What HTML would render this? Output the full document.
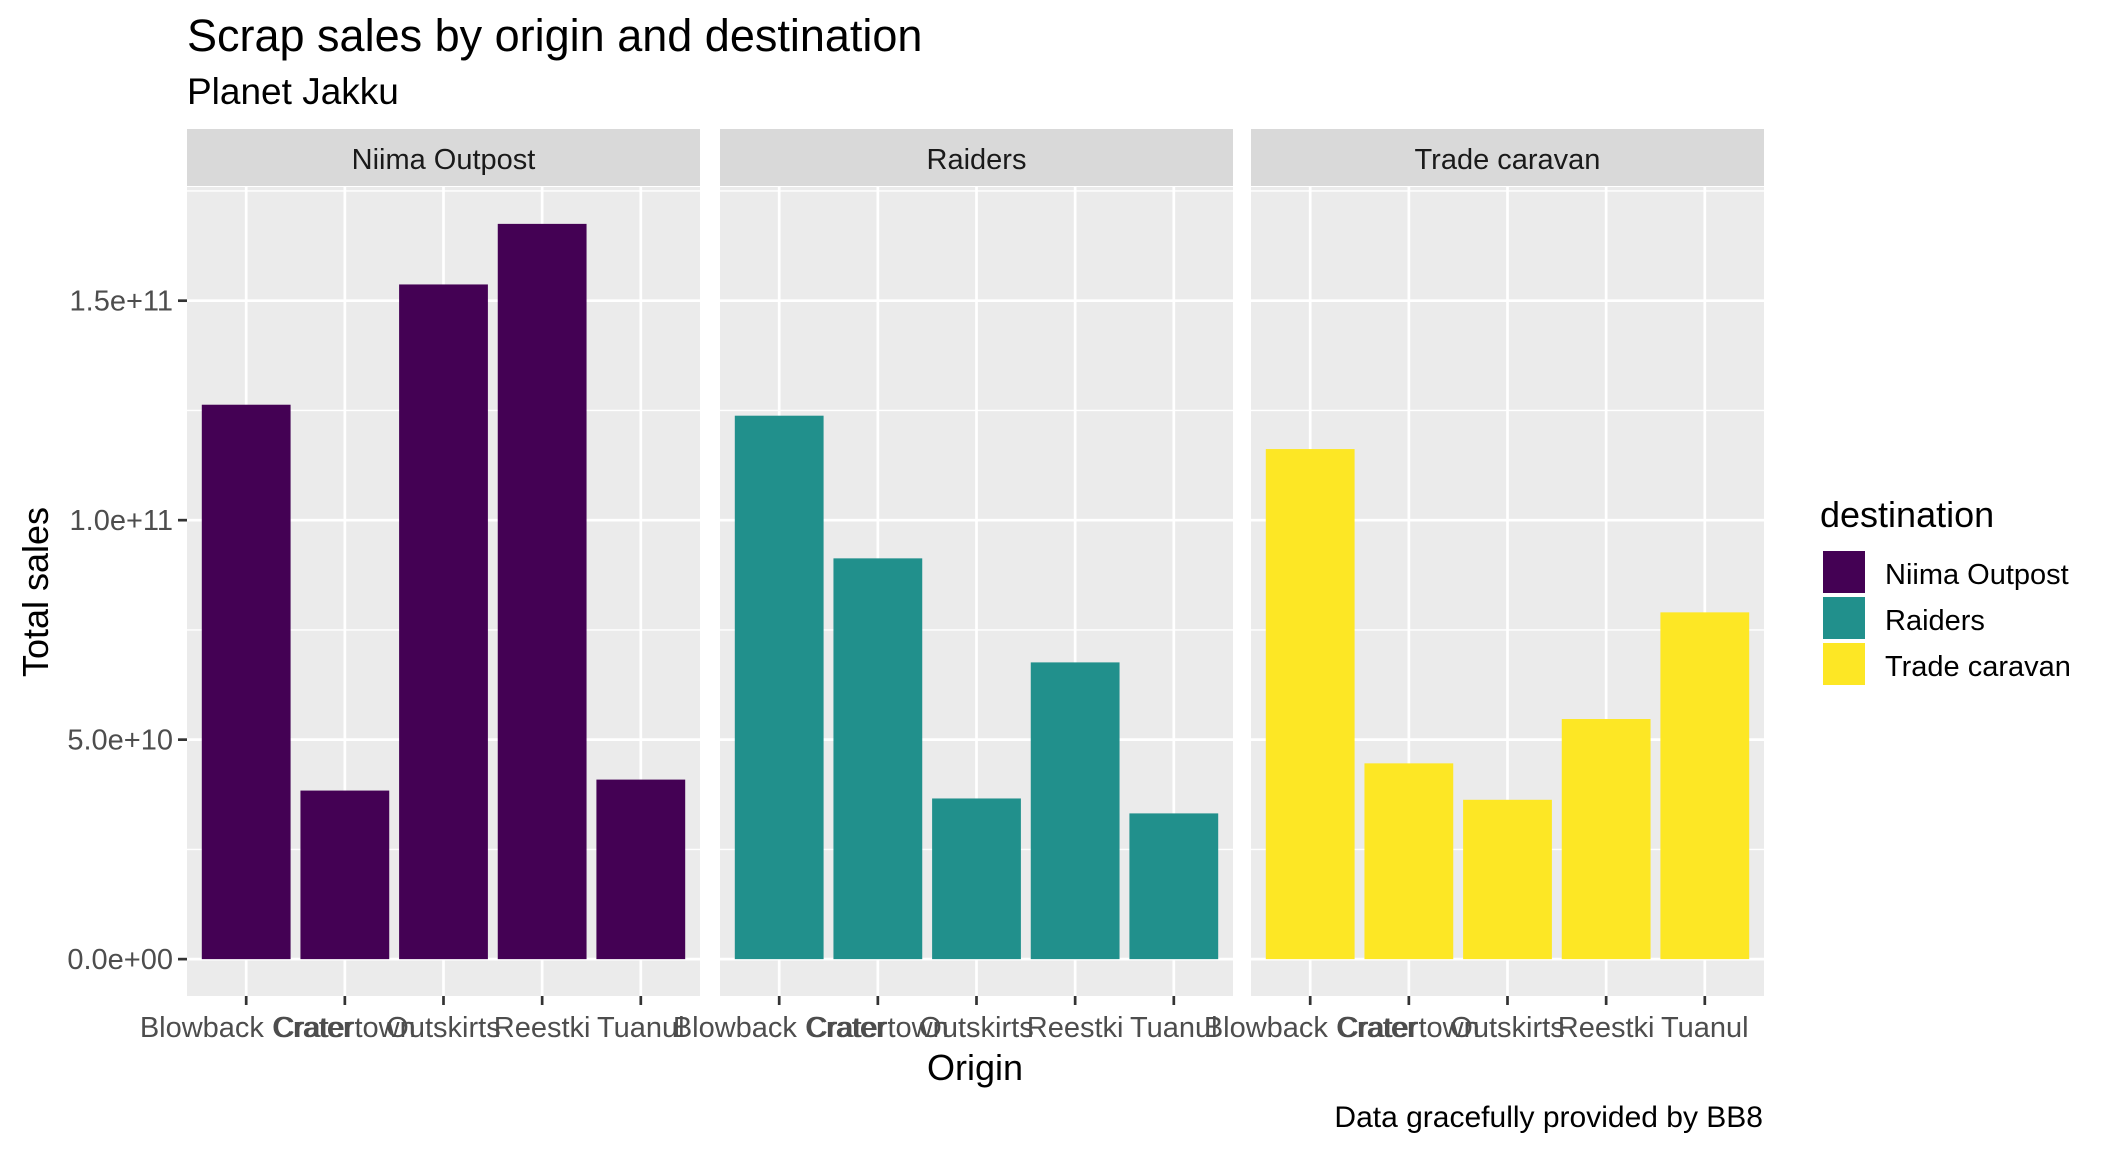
<!DOCTYPE html>
<html><head><meta charset="utf-8"><style>
html,body{margin:0;padding:0;background:#fff;}
svg{display:block;font-family:"Liberation Sans",Arial,sans-serif;}
</style></head><body>
<svg id="chart" width="2112" height="1152" viewBox="0 0 2112 1152">
<text x="187" y="51" font-size="45" fill="#000">Scrap sales by origin and destination</text>
<text x="187" y="104" font-size="37" fill="#000">Planet Jakku</text>
<text x="975" y="1080" font-size="36" text-anchor="middle" fill="#000">Origin</text>
<text transform="translate(48,592) rotate(-90)" font-size="36" text-anchor="middle" fill="#000">Total sales</text>
<text x="1763" y="1127" font-size="30" text-anchor="end" fill="#000">Data gracefully provided by BB8</text>
<g id="panels"></g>
<g>
<text x="1820" y="527" font-size="36" fill="#000">destination</text>
<rect x="1823" y="551" width="42" height="42" fill="#440154"/>
<text x="1885" y="584" font-size="29" fill="#000">Niima Outpost</text>
<rect x="1823" y="597" width="42" height="42" fill="#21908C"/>
<text x="1885" y="630" font-size="29" fill="#000">Raiders</text>
<rect x="1823" y="643" width="42" height="42" fill="#FDE725"/>
<text x="1885" y="676" font-size="29" fill="#000">Trade caravan</text>
</g>
</svg>
<script>
const origins = ["Blowback Crater","Cratertown","Outskirts","Reestki","Tuanul"];
const facets = ["Niima Outpost","Raiders","Trade caravan"];
const facetColors = ["#440154","#21908C","#FDE725"];
const niimaSales = [1.263e11,3.84e10,1.537e11,1.675e11,4.09e10];
const raidersSales = [1.238e11,9.13e10,3.66e10,6.76e10,3.32e10];
const tradeSales = [1.162e11,4.46e10,3.63e10,5.47e10,7.9e10];
const yTicks = [0,5e10,1e11,1.5e11];
const yTickLabels = ["0.0e+00","5.0e+10","1.0e+11","1.5e+11"];

const NS="http://www.w3.org/2000/svg";
const g=document.getElementById('panels');
const panelX=[187,720,1251], panelW=513, panelTop=187, panelBot=996;
const yMin=-0.084e11, yMax=1.759e11;
function yScale(v){return panelBot-(v-yMin)/(yMax-yMin)*(panelBot-panelTop);}
function xScale(px,i){return px+(i+1-0.4)/5.2*panelW;}
function mk(tag,attrs){const e=document.createElementNS(NS,tag);for(const k in attrs)e.setAttribute(k,attrs[k]);g.appendChild(e);return e;}
const series=[niimaSales,raidersSales,tradeSales];
facets.forEach((f,p)=>{
  const px=panelX[p];
  let e=mk('rect',{x:px,y:129,width:panelW,height:57,fill:'#D9D9D9'});
  
  
  e=mk('text',{x:px+panelW/2,y:169,'font-size':29,'text-anchor':'middle',fill:'#1a1a1a'});
  e.textContent=f;
  
  
  e=mk('rect',{x:px,y:panelTop,width:panelW,height:panelBot-panelTop,fill:'#EBEBEB'});
  
  
  for(let k=0;k<yTicks.length;k++){
    const my=yScale(yTicks[k]+2.5e10);
    if(my>panelTop){e=mk('line',{x1:px,x2:px+panelW,y1:my,y2:my,stroke:'#fff','stroke-width':1.4});
    
    }
  }
  yTicks.forEach((t,k)=>{
    const y=yScale(t);
    e=mk('line',{x1:px,x2:px+panelW,y1:y,y2:y,stroke:'#fff','stroke-width':2.7});
    
    
    if(p===0){
      e=mk('line',{x1:px-9,x2:px,y1:y,y2:y,stroke:'#333','stroke-width':2.7});
      
      
      e=mk('text',{x:px-14,y:y+10,'font-size':29,'text-anchor':'end',fill:'#4d4d4d'});
      e.textContent=yTickLabels[k];
      
      
    }
  });
  origins.forEach((o,i)=>{
    const cx=xScale(px,i);
    e=mk('line',{x1:cx,x2:cx,y1:panelTop,y2:panelBot,stroke:'#fff','stroke-width':2.7});
    
    
  });
  origins.forEach((o,i)=>{
    const cx=xScale(px,i), bw=0.9/5.2*panelW;
    const v=series[p][i];
    const y0=yScale(0), y1=yScale(v);
    e=mk('rect',{x:cx-bw/2,y:y1,width:bw,height:y0-y1,fill:facetColors[p]});
    
    
    e=mk('line',{x1:cx,x2:cx,y1:panelBot,y2:panelBot+9,stroke:'#333','stroke-width':2.7});
    
    
    e=mk('text',{x:cx,y:1037,'font-size':29,'text-anchor':'middle',fill:'#4d4d4d'});
    e.textContent=o;
    
    
  });
});
</script>
</body></html>
